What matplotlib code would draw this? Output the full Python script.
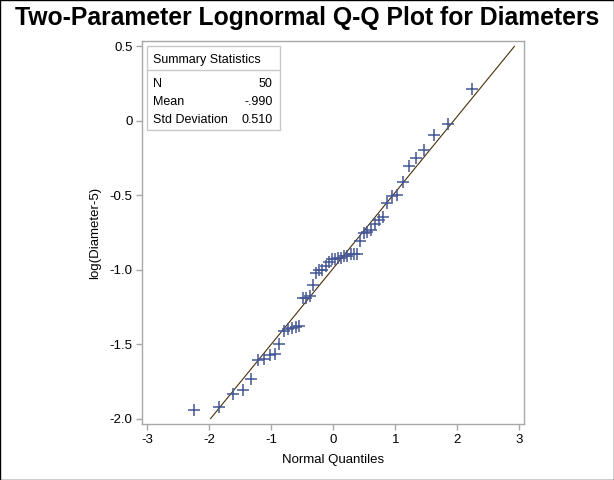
import matplotlib
matplotlib.use("Agg")
import matplotlib.pyplot as plt
from matplotlib.patches import Rectangle

plt.rcParams['font.family'] = ['Liberation Sans', 'DejaVu Sans']
plt.rcParams['axes.unicode_minus'] = False

# ---- Daten ----
# Normal-Quantile (Blom) fuer n=50, negative Haelfte; positive Haelfte symmetrisch
q_neg = [-2.243, -1.848, -1.624, -1.460, -1.328, -1.216, -1.118, -1.029, -0.948, -0.872,
         -0.802, -0.735, -0.671, -0.609, -0.550, -0.493, -0.438, -0.383, -0.330, -0.279,
         -0.226, -0.176, -0.125, -0.075, -0.025]
normal_quantiles = q_neg + [-v for v in reversed(q_neg)]

log_diam = [-1.945, -1.924, -1.833, -1.808, -1.732, -1.609, -1.600, -1.570, -1.565, -1.501,
            -1.411, -1.398, -1.394, -1.382, -1.378, -1.191, -1.191, -1.174, -1.103, -1.022,
            -1.005, -1.000, -0.978, -0.947, -0.931, -0.931, -0.919, -0.919, -0.906, -0.906,
            -0.894, -0.892, -0.892, -0.810, -0.755, -0.744, -0.734, -0.691, -0.669, -0.644,
            -0.552, -0.506, -0.499, -0.414, -0.303, -0.247, -0.195, -0.098, -0.023, 0.214]

n_obs = 50
mean = -0.990
std = 0.510
line_y = [-2.0, 0.5]

stat_labels = ["N", "Mean", "Std Deviation"]
stat_values = ["50", "-.990", "0.510"]

xticks = [-3, -2, -1, 0, 1, 2, 3]
yticks = [0.5, 0, -0.5, -1.0, -1.5, -2.0]
ytick_labels = ["0.5", "0", "-0.5", "-1.0", "-1.5", "-2.0"]

# ---- Plot ----
W, H = 614, 480
fig = plt.figure(figsize=(W / 100, H / 100), dpi=100)
ax = fig.add_axes([142.3 / W, 1 - 424.3 / H, 382 / W, 383.3 / H])

line_x = [(y - mean) / std for y in line_y]
ax.plot(line_x, line_y, color='#4A2E08', linewidth=0.8, zorder=2)
ax.plot(normal_quantiles, log_diam, linestyle='none', marker='+', markersize=8.5,
        markeredgewidth=1.1, color='#445694', zorder=3)

ax.set_xlim(-3.081, 3.081)
ax.set_ylim(-2.038, 0.536)
ax.set_xticks(xticks)
ax.set_yticks(yticks)
ax.set_yticklabels(ytick_labels)

for s in ax.spines.values():
    s.set_color('#A8A8A8')
    s.set_linewidth(1.0)
ax.tick_params(direction='out', length=4, width=1, color='#A8A8A8',
               labelsize=9.5, labelcolor='black', pad=3)
ax.set_xlabel("Normal Quantiles", fontsize=9.5, labelpad=6)
ax.set_ylabel("log(Diameter-5)", fontsize=9.5, labelpad=6)

# Summary-Statistik Kasten
def px2ax(px, py):
    return ax.transAxes.inverted().transform(fig.transFigure.transform((px / W, 1 - py / H)))

x0, y0 = px2ax(147.3, 130)
x1, y1 = px2ax(280.3, 46)
ax.add_patch(Rectangle((x0, y0), x1 - x0, y1 - y0, transform=ax.transAxes,
                       fill=True, facecolor='white', edgecolor='#C8C8C8', linewidth=1, zorder=4))
_, ysep = px2ax(0, 70.3)
ax.plot([x0, x1], [ysep, ysep], transform=ax.transAxes, color='#C8C8C8', linewidth=1, zorder=5)

tx, ty = px2ax(152.7, 59.7)
ax.text(tx, ty, "Summary Statistics", transform=ax.transAxes, fontsize=9,
        ha='left', va='center', zorder=6)
vx, _ = px2ax(272.7, 0)
for i, (lab, val) in enumerate(zip(stat_labels, stat_values)):
    _, ry = px2ax(0, 83.7 + 18 * i)
    ax.text(tx, ry, lab, transform=ax.transAxes, fontsize=9, ha='left', va='center', zorder=6)
    ax.text(vx, ry, val, transform=ax.transAxes, fontsize=9, ha='right', va='center', zorder=6)

fig.text(0.5, 1 - 18 / H, "Two-Parameter Lognormal Q-Q Plot for Diameters",
         fontsize=17.8, fontweight='bold', ha='center', va='center')

# Rahmen um das Bild
fig.add_artist(Rectangle((0, 0), 1, 1, transform=fig.transFigure, fill=False,
                         edgecolor='black', linewidth=1.0))

fig.savefig("out.png", dpi=100)
